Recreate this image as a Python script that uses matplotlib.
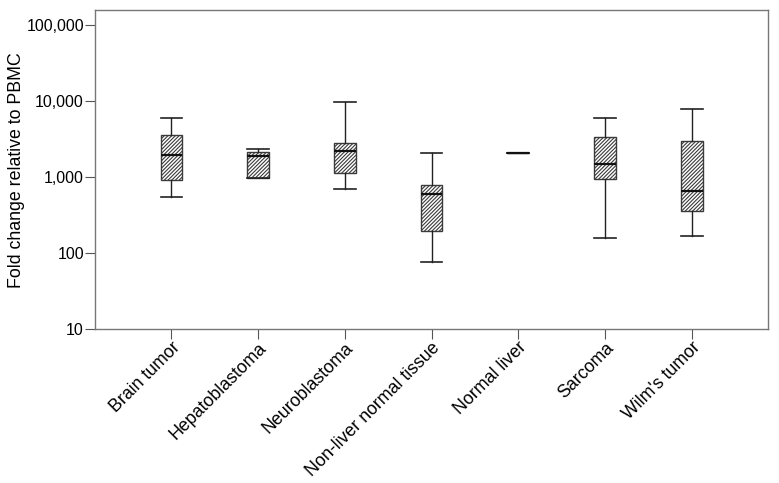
import matplotlib
matplotlib.use("Agg")
import matplotlib.pyplot as plt
from matplotlib.ticker import FixedLocator, FuncFormatter, NullLocator

plt.rcParams['font.family'] = ['Liberation Sans', 'DejaVu Sans']
plt.rcParams['hatch.linewidth'] = 0.8

# tissue groups and box statistics
groups = ["Brain tumor", "Hepatoblastoma", "Neuroblastoma", "Non-liver normal tissue",
          "Normal liver", "Sarcoma", "Wilm's tumor"]
whisker_lo = [546, 979, 708, 77, 2108, 160, 167]
q1 = [921, 979, 1129, 195, 2108, 941, 360]
median = [1984, 1924, 2239, 609, 2108, 1483, 660]
q3 = [3604, 2153, 2852, 799, 2108, 3420, 3006]
whisker_hi = [6085, 2336, 9700, 2108, 2108, 6085, 7848]

yticks = [10, 100, 1000, 10000, 100000]

stats = []
for i in range(len(groups)):
    stats.append(dict(label=groups[i], whislo=whisker_lo[i], q1=q1[i], med=median[i],
                      q3=q3[i], whishi=whisker_hi[i], fliers=[]))

fig = plt.figure(figsize=(7.79, 4.83), dpi=100)
ax = fig.add_axes([0.122, 0.318, 0.864, 0.661])

bp = ax.bxp(stats, positions=range(len(groups)), widths=0.25, patch_artist=True,
            showfliers=False,
            boxprops=dict(facecolor='white', edgecolor='#3a3a3a', linewidth=1.0, hatch='/////////'),
            whiskerprops=dict(color='#222222', linewidth=1.0),
            capprops=dict(color='#222222', linewidth=1.2),
            medianprops=dict(color='#111111', linewidth=1.6),
            capwidths=0.25)

ax.set_yscale('log')
ax.set_ylim(10, 10 ** 5.197)
ax.set_xlim(-0.88, len(groups) - 1 + 0.88)
ax.yaxis.set_major_locator(FixedLocator(yticks))
ax.yaxis.set_minor_locator(NullLocator())
ax.yaxis.set_major_formatter(FuncFormatter(lambda v, p: f"{int(round(v)):,}"))

ax.set_xticks(range(len(groups)))
ax.set_xticklabels(groups, rotation=45, ha='right', rotation_mode='anchor', fontsize=12.8)
ax.tick_params(axis='y', labelsize=11.5, pad=1)
ax.tick_params(axis='x', pad=0)
ax.tick_params(direction='out', length=7, width=0.8, color='#555555')

for s in ax.spines.values():
    s.set_color('#777777')
    s.set_linewidth(1.0)

fig.text(17 / 779, 1 - 170 / 483, "Fold change relative to PBMC", fontsize=12.8,
         rotation=90, ha='center', va='center')

fig.savefig("out.png", dpi=100)
